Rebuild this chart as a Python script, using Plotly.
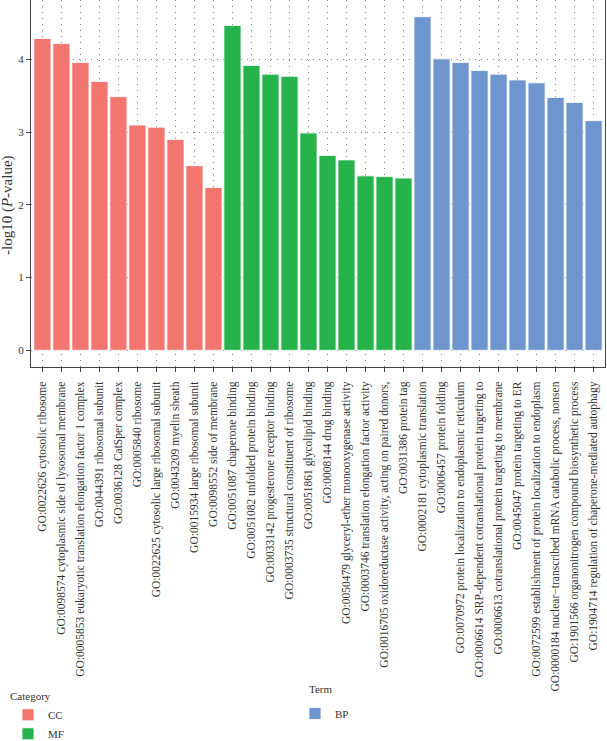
import plotly.graph_objects as go

cc_terms = [
    "GO:0022626 cytosolic ribosome",
    "GO:0098574 cytoplasmic side of lysosomal membrane",
    "GO:0005853 eukaryotic translation elongation factor 1 complex",
    "GO:0044391 ribosomal subunit",
    "GO:0036128 CatSper complex",
    "GO:0005840 ribosome",
    "GO:0022625 cytosolic large ribosomal subunit",
    "GO:0043209 myelin sheath",
    "GO:0015934 large ribosomal subunit",
    "GO:0098552 side of membrane",
]
cc_values = [4.29, 4.22, 3.96, 3.70, 3.49, 3.10, 3.07, 2.90, 2.54, 2.24]

mf_terms = [
    "GO:0051087 chaperone binding",
    "GO:0051082 unfolded protein binding",
    "GO:0033142 progesterone receptor binding",
    "GO:0003735 structural constituent of ribosome",
    "GO:0051861 glycolipid binding",
    "GO:0008144 drug binding",
    "GO:0050479 glyceryl-ether monooxygenase activity",
    "GO:0003746 translation elongation factor activity",
    "GO:0016705 oxidoreductase activity, acting on paired donors,",
    "GO:0031386 protein tag",
]
mf_values = [4.47, 3.92, 3.80, 3.77, 2.99, 2.68, 2.62, 2.40, 2.39, 2.37]

bp_terms = [
    "GO:0002181 cytoplasmic translation",
    "GO:0006457 protein folding",
    "GO:0070972 protein localization to endoplasmic reticulum",
    "GO:0006614 SRP-dependent cotranslational protein targeting to",
    "GO:0006613 cotranslational protein targeting to membrane",
    "GO:0045047 protein targeting to ER",
    "GO:0072599 establishment of protein localization to endoplasm",
    "GO:0000184 nuclear\u2212transcribed mRNA catabolic process, nonsen",
    "GO:1901566 organonitrogen compound biosynthetic process",
    "GO:1904714 regulation of chaperone-mediated autophagy",
]
bp_values = [4.59, 4.01, 3.96, 3.85, 3.80, 3.72, 3.68, 3.48, 3.41, 3.16]

categories = ["CC", "MF", "BP"]
colors = {"CC": "#F2756F", "MF": "#26B34C", "BP": "#6F95CE"}

FONT = "Liberation Serif"
W, H = 607, 741
L, R, T, B = 31, 2, 0, 374
PW, PH = W - L - R, H - T - B

fig = go.Figure()
for cat, terms, vals, leg in [
    ("CC", cc_terms, cc_values, "legend"),
    ("MF", mf_terms, mf_values, "legend"),
    ("BP", bp_terms, bp_values, "legend2"),
]:
    fig.add_trace(go.Bar(
        x=terms, y=vals, name=cat,
        marker=dict(color=colors[cat], line=dict(color="rgba(255,255,255,0.8)", width=1)),
        width=0.9, legend=leg,
    ))

all_terms = cc_terms + mf_terms + bp_terms
grid_dash = "1px,5px"

fig.update_layout(
    width=W, height=H,
    margin=dict(l=L, r=R, t=T, b=B, autoexpand=False),
    paper_bgcolor="white", plot_bgcolor="white",
    font=dict(family=FONT, size=11, color="#333333"),
    bargap=0.1,
    showlegend=True,
    legend=dict(
        title=dict(text="Category", font=dict(family=FONT, size=11, color="#333")),
        xref="container", yref="container", x=8 / W, y=(H - 686) / H,
        xanchor="left", yanchor="top", orientation="v",
        font=dict(family=FONT, size=11, color="#333"),
        itemwidth=30, tracegroupgap=0, bgcolor="rgba(0,0,0,0)",
    ),
    legend2=dict(
        xref="container", yref="container", x=295 / W, y=(H - 699) / H,
        xanchor="left", yanchor="top", orientation="v",
        font=dict(family=FONT, size=11, color="#333"),
        itemwidth=30, bgcolor="rgba(0,0,0,0)",
    ),
    xaxis=dict(
        type="category", categoryorder="array", categoryarray=all_terms,
        range=[-0.6, 29.6], tickangle=-90,
        showgrid=True, gridcolor="#888888", griddash=grid_dash, gridwidth=1,
        showline=True, linecolor="#444", linewidth=1, mirror=True,
        ticks="outside", ticklen=4, tickcolor="#444",
        tickfont=dict(family=FONT, size=11.5, color="#333"),
        ticklabelstandoff=5,
        automargin=False,
    ),
    yaxis=dict(
        range=[-0.23, 4.82], tickvals=[0, 1, 2, 3, 4],
        showgrid=True, gridcolor="#888888", griddash=grid_dash, gridwidth=1,
        zeroline=False,
        showline=True, linecolor="#444", linewidth=1, mirror=True,
        ticks="outside", ticklen=4, tickcolor="#444",
        tickfont=dict(family=FONT, size=11, color="#333"),
        automargin=False,
    ),
    annotations=[
        dict(text="Term", xref="paper", yref="paper",
             x=(320 - L) / PW, y=(PH - 681) / PH,
             xanchor="center", yanchor="top", showarrow=False,
             font=dict(family=FONT, size=11, color="#333")),
        dict(text="-log10 (<i>P</i>-value)", xref="paper", yref="paper",
             x=-(L - 8) / PW, y=(PH - 205) / PH, textangle=-90,
             xanchor="center", yanchor="middle", showarrow=False,
             font=dict(family=FONT, size=15, color="#333")),
    ],
)

fig.write_html(
    "out.html",
    config={"displayModeBar": False},
    post_script="document.body.style.margin='0';document.body.style.overflow='hidden';",
)
